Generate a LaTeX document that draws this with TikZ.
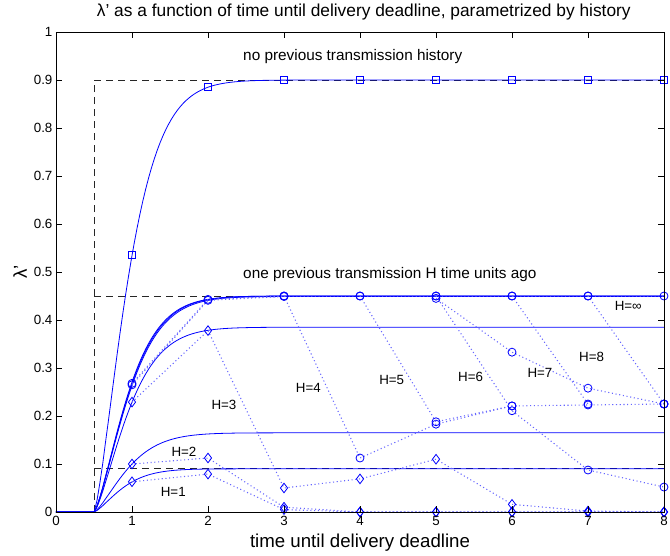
\documentclass[tikz,border=0pt]{standalone}
\usepackage{fontspec}
\setmainfont{Liberation Sans}
\usetikzlibrary{calc,plotmarks}

\begin{document}
\begin{tikzpicture}[x=57pt,y=360pt,
  curve/.style={blue,line width=0.6pt},
  series/.style={blue!60,line width=0.8pt,dotted,mark size=3pt,
    mark options={solid,draw=blue,line width=0.6pt}},
  limit/.style={black!85,line width=0.6pt,dash pattern=on 5.5pt off 3.5pt},
  ticklab/.style={font=\fontsize{10}{12}\selectfont,inner sep=0pt},
  hlab/.style={font=\fontsize{10}{12}\selectfont,inner sep=0pt},
  notelab/.style={font=\fontsize{11.5}{14}\selectfont,inner sep=0pt,anchor=west}]
  \useasboundingbox (-0.7368,-0.0896) rectangle (8.0789,1.0667);

  % step functions
  \draw[limit] (0.5,0) -- (0.5,0.9) -- (8,0.9);
  \draw[limit] (0.5,0.45) -- (8,0.45);
  \draw[limit] (0.5,0.09) -- (8,0.09);

  % continuous curves
  \foreach \A/\k in {0.9/2.34,0.45/2.34,0.449/2.29,0.45/2.39,0.385/2.34,0.165/2.42,0.09/3.1}
  \draw[curve] (0,0) -- (0.5,0) -- plot[domain=0.502:8,samples=200] (\x,{\A*(1-exp(-\k*(\x-0.5)^1.377))})
  ;

  % no history
  \draw[blue,line width=0.6pt] plot[only marks,mark=square,mark size=2.5pt] coordinates {(1,0.535) (2,0.885) (3,0.9) (4,0.9) (5,0.9) (6,0.9) (7,0.9) (8,0.9)};

  % one transmission, circles
  \draw[series,mark=o] plot coordinates {(1,0.268) (2,0.443) (3,0.45) (4,0.45) (5,0.45) (6,0.45) (7,0.45) (8,0.45)};
  \draw[series,mark=o] plot coordinates {(1,0.265) (2,0.441) (3,0.449)};
  \draw[series,mark=o] plot coordinates {(3,0.45) (4,0.1125) (5,0.183) (6,0.221) (7,0.223) (8,0.225)};
  \draw[series,mark=o] plot coordinates {(4,0.45) (5,0.188) (6,0.221)};
  \draw[series,mark=o] plot coordinates {(5,0.45) (6,0.211) (7,0.0875) (8,0.052)};
  \draw[series,mark=o] plot coordinates {(5,0.445) (6,0.333) (7,0.258) (8,0.225)};
  \draw[series,mark=o] plot coordinates {(6,0.45) (7,0.225)};
  \draw[series,mark=o] plot coordinates {(7,0.45) (8,0.225)};

  % short histories, diamonds
  \draw[series,mark=diamond,mark size=3.6pt] plot coordinates {(1,0.063) (2,0.079) (3,0.005) (4,0) (5,0) (6,0) (7,0) (8,0)};
  \draw[series,mark=diamond,mark size=3.6pt] plot coordinates {(1,0.1) (2,0.1125) (3,0.01) (4,0) (5,0) (6,0) (7,0) (8,0)};
  \draw[series,mark=diamond,mark size=3.6pt] plot coordinates {(1,0.229) (2,0.378) (3,0.05) (4,0.069) (5,0.11) (6,0.016) (7,0.002) (8,0)};

  % axes box and ticks
  \draw[line width=0.6pt] (0,0) rectangle (8,1);
  \foreach \i in {0,...,8} {
    \draw[line width=0.5pt] (\i,0) -- ++(0,4.5pt) (\i,1) -- ++(0,-4.5pt);
    \node[ticklab,anchor=north] (xt\i) at ($(\i,0)+(0,-3pt)$) {\i};
  }
  \foreach \j/\t in {0/0,1/0.1,2/0.2,3/0.3,4/0.4,5/0.5,6/0.6,7/0.7,8/0.8,9/0.9,10/1} {
    \draw[line width=0.5pt] (0,\j/10) -- ++(4.5pt,0) (8,\j/10) -- ++(-4.5pt,0);
    \node[ticklab,anchor=east] (yt\j) at ($(0,\j/10)+(-2.5pt,0)$) {\t};
  }

  % labels
  \node[notelab] (nohist) at (2.46,0.948) {no previous transmission history};
  \node[notelab] (onehist) at (2.46,0.494) {one previous transmission H time units ago};
  \node[hlab] (h1) at (1.543,0.042) {H=1};
  \node[hlab] (h2) at (1.684,0.1256) {H=2};
  \node[hlab] (h3) at (2.21,0.224) {H=3};
  \node[hlab] (h4) at (3.32,0.258) {H=4};
  \node[hlab] (h5) at (4.417,0.275) {H=5};
  \node[hlab] (h6) at (5.456,0.281) {H=6};
  \node[hlab] (h7) at (6.368,0.29) {H=7};
  \node[hlab] (h8) at (7.048,0.3236) {H=8};
  \node[hlab] (hinf) at (7.53,0.429) {H=∞};

  \node[font=\fontsize{13}{15}\selectfont] (title) at (4.05,1.0417) {λ' as a function of time until delivery deadline, parametrized by history};
  \node[font=\fontsize{14}{16}\selectfont] (xlab) at (4,-0.0646) {time until delivery deadline};
  \node[font=\fontsize{14}{16}\selectfont,rotate=90] (ylab) at (-0.4737,0.5) {λ'};
\end{tikzpicture}
\end{document}
